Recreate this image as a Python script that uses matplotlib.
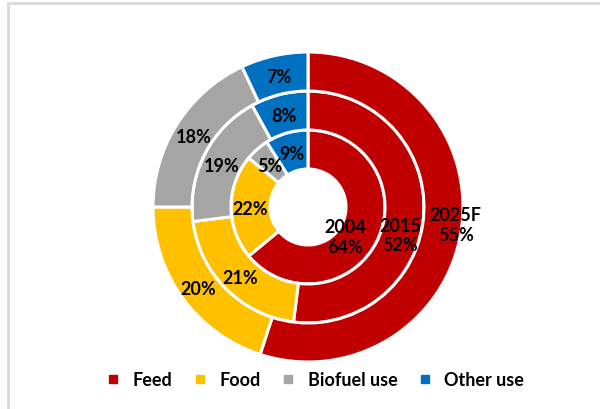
import numpy as np
import matplotlib.pyplot as plt
from matplotlib.lines import Line2D
from matplotlib.patches import Rectangle

plt.rcParams['font.family'] = ['Lato', 'DejaVu Sans']

# ---------------------------------------------------------------
# Data: share of use by segment (%), rings from inside out
# ---------------------------------------------------------------
segments = ["Feed", "Food", "Biofuel use", "Other use"]
colors = ["#C00000", "#FFC000", "#A5A5A5", "#0070C0"]

years = ["2004", "2015", "2025F"]
share_2004 = [64, 22, 5, 9]
share_2015 = [52, 21, 19, 8]
share_2025 = [55, 20, 18, 7]
rings = [share_2004, share_2015, share_2025]

# ---------------------------------------------------------------
# Layout (pixel-like data coords, y up)
# ---------------------------------------------------------------
W, H = 600, 410
cx, cy = 308, 410 - 208
radii = [77, 116, 155]
width = 39
# nudges for the combined "year / feed %" labels (px)
feed_nudge = [(-15, -5), (-4, -22), (14, 4)]
fs = 13

fig = plt.figure(figsize=(6, 4.1), dpi=100)
ax = fig.add_axes([0, 0, 1, 1])

for i, (vals, r) in enumerate(zip(rings, radii)):
    ax.pie(vals, radius=r, center=(cx, cy), startangle=90, counterclock=False,
           colors=colors,
           wedgeprops=dict(width=width, edgecolor="white", linewidth=2.2))
    cum = np.cumsum(vals) - np.array(vals) / 2
    rm = r - width / 2
    for j, (v, c) in enumerate(zip(vals, cum)):
        ang = np.deg2rad(90 - c * 3.6)
        x = cx + rm * np.cos(ang)
        y = cy + rm * np.sin(ang)
        if j == 0:
            dx, dy = feed_nudge[i]
            ax.text(x + dx, y + dy, f"{years[i]}\n{v}%", ha="center", va="center",
                    fontsize=fs, fontweight="bold", linespacing=1.2)
        else:
            ax.text(x, y - 2, f"{v}%", ha="center", va="center",
                    fontsize=fs, fontweight="bold")

ax.set_xlim(0, W)
ax.set_ylim(0, H)
ax.set_aspect("equal")
ax.axis("off")

# chart frame (only top/left edges fall inside the picture)
ax.add_patch(Rectangle((8, -20), 700, 406 + 20, fill=False,
                       edgecolor="#d9d9d9", linewidth=2))

handles = [Line2D([], [], marker="s", linestyle="", color=c, markersize=6)
           for c in colors]
ax.legend(handles, segments, loc="center", bbox_to_anchor=(315 / W, (H - 381) / H),
          ncol=4, frameon=False, handlelength=0.8, handletextpad=0.7,
          columnspacing=1.1, prop=dict(weight="bold", size=fs))

plt.savefig("out.png", dpi=100)
